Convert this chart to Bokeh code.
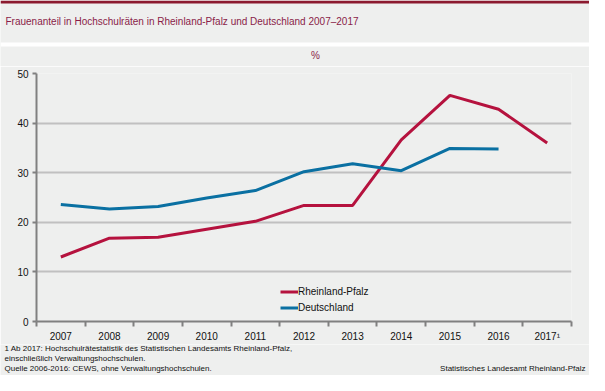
from bokeh.plotting import figure
from bokeh.layouts import column
from bokeh.models import Range1d, FixedTicker, Legend, LegendItem
from bokeh.core.properties import value
from bokeh.embed import file_html
from bokeh.resources import INLINE
import numpy as np

years = ["2007", "2008", "2009", "2010", "2011", "2012", "2013", "2014", "2015", "2016", "2017¹"]
rlp = [13.0, 16.8, 17.0, 18.6, 20.2, 23.4, 23.4, 36.6, 45.6, 42.8, 36.0]
de = [23.6, 22.7, 23.2, 24.9, 26.4, 30.2, 31.8, 30.4, 34.9, 34.8]
y_ticks = [0, 10, 20, 30, 40, 50]

title = "Frauenanteil in Hochschulräten in Rheinland-Pfalz und Deutschland 2007–2017"
unit = "%"
notes = ["1 Ab 2017: Hochschulrätestatistik des Statistischen Landesamts Rheinland-Pfalz,",
         "einschließlich Verwaltungshochschulen.",
         "Quelle 2006-2016: CEWS, ohne Verwaltungshochschulen."]
source = "Statistisches Landesamt Rheinland-Pfalz"

BG = "#eeefee"
RED = "#b5123e"
BLUE = "#0a70a2"
TITLE_C = "#8a1d48"
FONT = "Liberation Sans"
W = 589
H_HEAD, H_MAIN, H_FOOT = 66, 278, 31


def blank(h, y0, y1):
    f = figure(width=W, height=h, output_backend="svg", toolbar_location=None,
               x_range=Range1d(0, W), y_range=Range1d(y0, y1),
               min_border=0, x_axis_location=None, y_axis_location=None)
    f.outline_line_color = None
    f.grid.visible = False
    f.background_fill_color = BG
    f.border_fill_color = BG
    f.frame_align = False
    return f


# header: red bar, title band, white gap, unit label
head = blank(H_HEAD, H_HEAD, 0)
head.quad(left=[0], right=[W], top=[0], bottom=[3], fill_color="#8b1a2f", line_color=None)
head.quad(left=[0], right=[W], top=[42], bottom=[46], fill_color="white", line_color=None)
head.text(x=[5], y=[21], text=[title], text_font=value(FONT),
          text_font_size="10px", text_color=TITLE_C, text_baseline="middle", text_align="left")
head.text(x=[315], y=[55], text=[unit], text_font=value(FONT),
          text_font_size="10px", text_color=TITLE_C, text_baseline="middle", text_align="center")

# main chart
n = len(years)
x_rlp = np.arange(len(rlp)) + 0.5
x_de = np.arange(len(de)) + 0.5

p = figure(width=W, height=H_MAIN, output_backend="svg", toolbar_location=None,
           x_range=Range1d(0, n), y_range=Range1d(0, 50),
           min_border_left=36, min_border_right=18, min_border_top=7, min_border_bottom=19)
p.background_fill_color = BG
p.border_fill_color = BG
p.outline_line_color = None

p.xaxis.ticker = FixedTicker(ticks=list(np.arange(n) + 0.5), minor_ticks=list(range(n + 1)))
p.xaxis.major_label_overrides = {float(i + 0.5): y for i, y in enumerate(years)}
p.xaxis.major_tick_out = 0
p.xaxis.major_tick_in = 0
p.xaxis.minor_tick_out = 5
p.xaxis.minor_tick_in = 0
p.xaxis.minor_tick_line_color = "#808080"
p.xaxis.minor_tick_line_width = 2
p.xaxis.axis_line_color = "#808080"
p.xaxis.axis_line_width = 2
p.xaxis.major_label_standoff = 4

p.yaxis.ticker = FixedTicker(ticks=y_ticks, minor_ticks=[])
p.yaxis.major_tick_out = 4
p.yaxis.major_tick_in = 0
p.yaxis.major_tick_line_color = "#808080"
p.yaxis.major_tick_line_width = 2
p.yaxis.axis_line_color = "#808080"
p.yaxis.axis_line_width = 2
p.yaxis.major_label_standoff = 4

for ax in (p.xaxis, p.yaxis):
    ax.major_label_text_font = FONT
    ax.major_label_text_font_size = "10px"
    ax.major_label_text_color = "#111111"

p.xgrid.grid_line_color = None
p.ygrid.ticker = FixedTicker(ticks=y_ticks[1:])
p.ygrid.grid_line_color = "#c0c0c0"
p.ygrid.grid_line_width = 2

r1 = p.line(x_rlp, rlp, line_color=RED, line_width=3)
r2 = p.line(x_de, de, line_color=BLUE, line_width=3)

legend = Legend(items=[LegendItem(label="Rheinland-Pfalz", renderers=[r1]),
                       LegendItem(label="Deutschland", renderers=[r2])],
                location=(244, 7), orientation="vertical", glyph_width=18, glyph_height=13,
                spacing=3, padding=0, margin=0, label_standoff=0,
                label_text_font=FONT, label_text_font_size="10px", label_text_color="#111111",
                background_fill_alpha=0, border_line_color=None)
p.add_layout(legend, "center")

# footer
foot = blank(H_FOOT, H_FOOT, 0)
foot.text(x=[4, 4, 4], y=[4, 14, 24], text=notes, text_font=value(FONT), text_font_size="8px",
          text_color="#111111", text_baseline="middle", text_align="left")
foot.text(x=[W - 4], y=[24], text=[source], text_font=value(FONT), text_font_size="8px",
          text_color="#111111", text_baseline="middle", text_align="right")

layout = column(head, p, foot, spacing=0)
open("out.html", "w").write(file_html(layout, INLINE))
